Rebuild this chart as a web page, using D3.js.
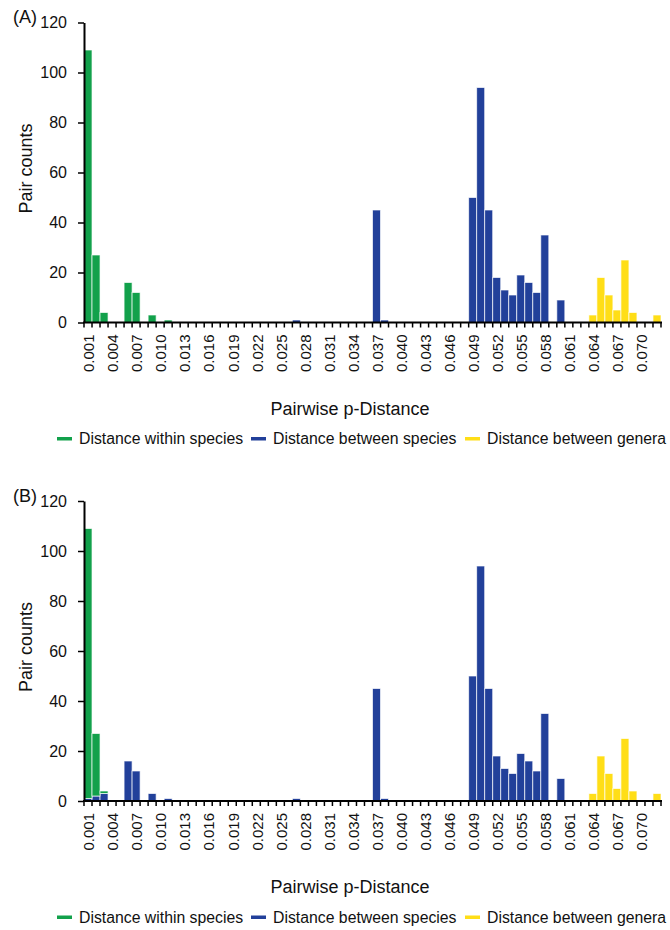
<!DOCTYPE html>
<html>
<head>
<meta charset="utf-8">
<script src="https://cdn.jsdelivr.net/npm/d3@7"></script>
<style>
  body { margin: 0; background: #fff; }
  text { font-family: "Liberation Sans", Arial, Helvetica, sans-serif; fill: #111; }
</style>
</head>
<body>
<div id="chart"></div>
<script>
// categories (pairwise p-distance bins)
const cats = [
  "0.001","0.002","0.003","0.004","0.005","0.006","0.007","0.008","0.009","0.010","0.011","0.012",
  "0.013","0.014","0.015","0.016","0.017","0.018","0.019","0.020","0.021","0.022","0.023","0.024",
  "0.025","0.026","0.027","0.028","0.029","0.030","0.031","0.032","0.033","0.034","0.035","0.036",
  "0.037","0.038","0.039","0.040","0.041","0.042","0.043","0.044","0.045","0.046","0.047","0.048",
  "0.049","0.050","0.051","0.052","0.053","0.054","0.055","0.056","0.057","0.058","0.059","0.060",
  "0.061","0.062","0.063","0.064","0.065","0.066","0.067","0.068","0.069","0.070","0.071","0.072"
];
const labelCats = ["0.001","0.004","0.007","0.010","0.013","0.016","0.019","0.022","0.025","0.028",
  "0.031","0.034","0.037","0.040","0.043","0.046","0.049","0.052","0.055","0.058","0.061","0.064",
  "0.067","0.070"];
const yTicks = [0, 20, 40, 60, 80, 100, 120];

// panel A
const withinA = [
  109,27,4,0,0,16,12,0,3,0,1,0,
  0,0,0,0,0,0,0,0,0,0,0,0,
  0,0,0,0,0,0,0,0,0,0,0,0,
  0,0,0,0,0,0,0,0,0,0,0,0,
  0,0,0,0,0,0,0,0,0,0,0,0,
  0,0,0,0,0,0,0,0,0,0,0,0
];
const betweenA = [
  0,0,0,0,0,0,0,0,0,0,0,0,
  0,0,0,0,0,0,0,0,0,0,0,0,
  0,0,1,0,0,0,0,0,0,0,0,0,
  45,1,0,0,0,0,0,0,0,0,0,0,
  50,94,45,18,13,11,19,16,12,35,0,9,
  0,0,0,0,0,0,0,0,0,0,0,0
];
const generaA = [
  0,0,0,0,0,0,0,0,0,0,0,0,
  0,0,0,0,0,0,0,0,0,0,0,0,
  0,0,0,0,0,0,0,0,0,0,0,0,
  0,0,0,0,0,0,0,0,0,0,0,0,
  0,0,0,0,0,0,0,0,0,0,0,0,
  0,0,0,3,18,11,5,25,4,0,0,3
];

// panel B
const withinB = [
  108,25,1,0,0,0,0,0,0,0,0,0,
  0,0,0,0,0,0,0,0,0,0,0,0,
  0,0,0,0,0,0,0,0,0,0,0,0,
  0,0,0,0,0,0,0,0,0,0,0,0,
  0,0,0,0,0,0,0,0,0,0,0,0,
  0,0,0,0,0,0,0,0,0,0,0,0
];
const betweenB = [
  1,2,3,0,0,16,12,0,3,0,1,0,
  0,0,0,0,0,0,0,0,0,0,0,0,
  0,0,1,0,0,0,0,0,0,0,0,0,
  45,1,0,0,0,0,0,0,0,0,0,0,
  50,94,45,18,13,11,19,16,12,35,0,9,
  0,0,0,0,0,0,0,0,0,0,0,0
];
const generaB = generaA;

const seriesKeys = ["between", "within", "genera"];
const seriesColor = { within: "#12a14b", between: "#22409a", genera: "#ffde17" };
const legendItems = [
  { key: "within", label: "Distance within species" },
  { key: "between", label: "Distance between species" },
  { key: "genera", label: "Distance between genera" }
];

/**
 * Proportions
 */
const svgWidth = 670;
const svgHeight = 930;
const plotLeft = 84;
const plotRight = 661;
const plotHeight = 300;
const legendX = [57, 251, 465];

const svg = d3.select("#chart")
  .append("svg")
  .attr("width", svgWidth)
  .attr("height", svgHeight);

const x = d3.scaleBand().domain(cats).range([plotLeft, plotRight]).padding(0);

function drawPanel(top, letter, within, between, genera) {
  const g = svg.append("g");
  const base = top + plotHeight;
  const y = d3.scaleLinear().domain([0, 120]).range([base, top]);

  const rows = cats.map((c, i) => ({ cat: c, within: within[i], between: between[i], genera: genera[i] }));
  const stacked = d3.stack().keys(seriesKeys)(rows);

  // bars
  g.selectAll(".series")
    .data(stacked)
    .enter()
    .append("g")
    .attr("fill", d => seriesColor[d.key])
    .selectAll("rect")
    .data(d => d.filter(p => p[1] > p[0]))
    .enter()
    .append("rect")
    .attr("x", d => x(d.data.cat))
    .attr("y", d => y(d[1]))
    .attr("width", x.bandwidth())
    .attr("height", d => y(d[0]) - y(d[1]))
    .attr("stroke", "#ffffff")
    .attr("stroke-opacity", 0.75)
    .attr("stroke-width", 0.9);

  // y axis
  const yAxis = g.append("g")
    .attr("transform", `translate(${plotLeft},0)`)
    .call(d3.axisLeft(y).tickValues(yTicks).tickSizeInner(6).tickSizeOuter(0).tickPadding(11));
  yAxis.select(".domain").attr("stroke", "#000").attr("stroke-width", 2);
  yAxis.selectAll(".tick line").attr("stroke", "#000").attr("stroke-width", 1.5);
  yAxis.selectAll("text")
    .attr("font-size", 16)
    .attr("font-family", "Liberation Sans, Arial, sans-serif")
    .attr("fill", "#111");

  // x axis: labels every third bin, rotated
  const xAxis = g.append("g")
    .attr("transform", `translate(0,${base})`)
    .call(d3.axisBottom(x).tickValues(labelCats).tickSize(0));
  xAxis.select(".domain").remove();
  xAxis.selectAll("text")
    .attr("transform", "rotate(-90)")
    .attr("text-anchor", "end")
    .attr("x", -12)
    .attr("y", 1)
    .attr("dy", "0.35em")
    .attr("font-size", 15)
    .attr("font-family", "Liberation Sans, Arial, sans-serif")
    .attr("fill", "#111");

  // tick marks at bin boundaries
  const bounds = cats.map(c => x(c)).concat([x(cats[cats.length - 1]) + x.bandwidth()]);
  g.append("g")
    .selectAll("line")
    .data(bounds)
    .enter()
    .append("line")
    .attr("x1", d => d)
    .attr("x2", d => d)
    .attr("y1", base)
    .attr("y2", base + 5)
    .attr("stroke", "#000")
    .attr("stroke-width", 1.5);
  g.append("line")
    .attr("x1", plotLeft - 1)
    .attr("x2", plotRight + 1)
    .attr("y1", base)
    .attr("y2", base)
    .attr("stroke", "#000")
    .attr("stroke-width", 2);

  // panel letter
  g.append("text")
    .attr("x", 13)
    .attr("y", top + 0.5)
    .attr("font-size", 18)
    .text(letter);

  // y title
  g.append("text")
    .attr("transform", `translate(32,${top + 146}) rotate(-90)`)
    .attr("text-anchor", "middle")
    .attr("font-size", 18)
    .text("Pair counts");

  // x title
  g.append("text")
    .attr("x", 350)
    .attr("y", base + 92)
    .attr("text-anchor", "middle")
    .attr("font-size", 18)
    .text("Pairwise p-Distance");

  // legend
  const legend = g.append("g").attr("transform", `translate(0,${base + 116})`);
  legendItems.forEach((item, i) => {
    legend.append("rect")
      .attr("x", legendX[i])
      .attr("y", -1.5)
      .attr("width", 15)
      .attr("height", 3.5)
      .attr("fill", seriesColor[item.key]);
    legend.append("text")
      .attr("x", legendX[i] + 22)
      .attr("y", 0)
      .attr("dy", "0.35em")
      .attr("font-size", 15.8)
      .text(item.label);
  });
}

drawPanel(22.5, "(A)", withinA, betweenA, generaA);
drawPanel(501, "(B)", withinB, betweenB, generaB);
</script>
</body>
</html>
